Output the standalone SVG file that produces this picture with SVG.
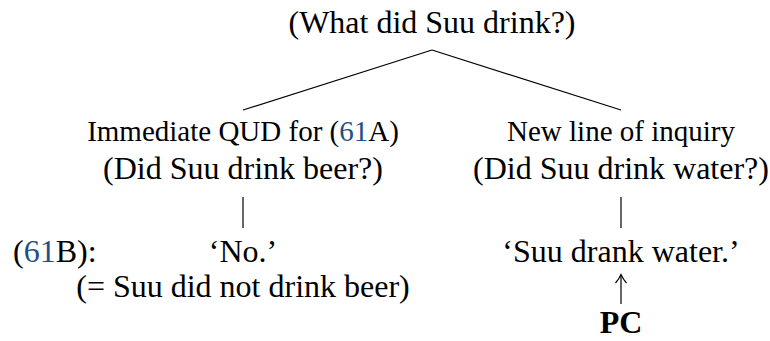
<svg xmlns="http://www.w3.org/2000/svg" width="770" height="341" viewBox="0 0 770 341">
<style>
text{font-family:"Liberation Serif","Times New Roman",serif;fill:#000}
.m{font-size:32px}
.s{font-size:29px}
.c{text-anchor:middle}
.b{font-weight:bold}
.ref{fill:#1f4f86}
.e{stroke:#000;stroke-width:1.2;fill:none}
</style>
<rect width="770" height="341" fill="#fff"/>
<g id="root"><text class="m c" x="432" y="33">(What did Suu drink?)</text></g>
<g id="qud-beer">
<text class="s c" x="243" y="141">Immediate QUD for (<tspan class="ref">61</tspan>A)</text>
<text class="m c" x="243" y="179">(Did Suu drink beer?)</text>
</g>
<g id="qud-water">
<text class="s c" x="621" y="141">New line of inquiry</text>
<text class="m c" x="621" y="179">(Did Suu drink water?)</text>
</g>
<g id="label-61B"><text class="m" x="13" y="262">(<tspan class="ref">61</tspan>B):</text></g>
<g id="answer-no">
<text class="m c" x="243" y="262">‘No.’</text>
<text class="m c" x="243" y="297">(= Suu did not drink beer)</text>
</g>
<g id="answer-water"><text class="m c" x="621" y="262">‘Suu drank water.’</text></g>
<g id="pc"><text class="m c b" x="621" y="333">PC</text></g>
<g id="connectors">
<path class="e" d="M432 50 L243 110"/>
<path class="e" d="M432 50 L621 110"/>
<path class="e" d="M243 197 L243 228"/>
<path class="e" d="M621 197 L621 228"/>
<path class="e" d="M621 304 L621 275"/>
<path class="e" d="M615.5 283 Q619 279 621 274.5 Q623 279 626.5 283"/>
</g>
</svg>
